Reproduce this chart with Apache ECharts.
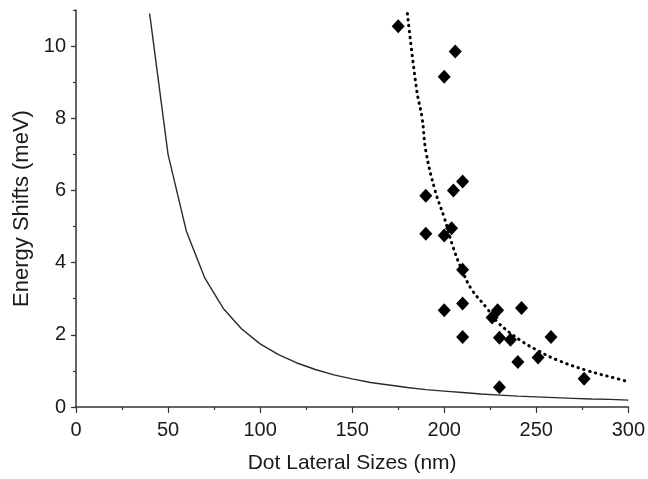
<!DOCTYPE html>
<html>
<head>
<meta charset="utf-8">
<script src="https://cdn.jsdelivr.net/npm/echarts@6/dist/echarts.min.js"></script>
<style>html,body{margin:0;padding:0;background:#fff;}#chart{width:648px;height:479px;}</style>
</head>
<body>
<div id="chart"></div>
<script>
// Measured scatter points (dot lateral size nm, energy shift meV)
const scatterX = [175, 206, 200, 210, 205, 190, 204, 190, 200, 210, 200, 210, 229, 226, 242, 210, 230, 236, 258, 240, 251, 276, 230];
const scatterY = [10.55, 9.85, 9.15, 6.25, 6.0, 5.85, 4.95, 4.8, 4.75, 3.8, 2.68, 2.87, 2.68, 2.48, 2.74, 1.94, 1.92, 1.86, 1.94, 1.25, 1.37, 0.78, 0.55];

// Solid theoretical curve
const solidX = [40, 50, 60, 70, 80, 90, 100, 110, 120, 130, 140, 150, 160, 170, 180, 190, 200, 210, 220, 230, 240, 250, 260, 270, 280, 290, 300];
const solidY = [10.9, 7.0, 4.86, 3.57, 2.73, 2.16, 1.75, 1.45, 1.22, 1.04, 0.89, 0.78, 0.68, 0.61, 0.54, 0.48, 0.44, 0.40, 0.36, 0.33, 0.30, 0.28, 0.26, 0.24, 0.22, 0.21, 0.19];

// Dotted fit curve
const dotX = [180, 185, 188, 190, 195, 200, 205, 210, 215, 223, 229, 241, 251, 261, 277, 295, 300];
const dotY = [10.9, 8.8, 8.0, 7.1, 6.0, 5.25, 4.4, 3.75, 3.25, 2.75, 2.35, 1.86, 1.56, 1.31, 1.02, 0.77, 0.70];

const xTicks = [0, 50, 100, 150, 200, 250, 300];
const yTicks = [0, 2, 4, 6, 8, 10];

const pair = (xs, ys) => xs.map((x, i) => [x, ys[i]]);

const font = '"Liberation Sans", Arial, Helvetica, sans-serif';
const axisColor = '#333';

const chart = echarts.init(document.getElementById('chart'), null, {renderer: 'canvas'});
chart.setOption({
  animation: false,
  backgroundColor: '#ffffff',
  grid: {left: 76, right: 19, top: 10, bottom: 72, containLabel: false},
  xAxis: {
    type: 'value',
    min: xTicks[0], max: xTicks[xTicks.length - 1], interval: 50,
    name: 'Dot Lateral Sizes (nm)',
    nameLocation: 'middle', nameGap: 46,
    nameTextStyle: {fontFamily: font, fontSize: 21, color: '#1a1a1a'},
    axisLine: {show: true, lineStyle: {color: axisColor, width: 1.5}},
    axisTick: {show: true, inside: false, length: 6, lineStyle: {color: axisColor, width: 1.2}},
    minorTick: {show: true, splitNumber: 2, length: 3, lineStyle: {color: axisColor, width: 1.2}},
    axisLabel: {fontFamily: font, fontSize: 20, color: '#1a1a1a', margin: 13},
    splitLine: {show: false}
  },
  yAxis: [{
    type: 'value',
    min: 0, max: 11, interval: 2,
    name: 'Energy Shifts (meV)',
    nameLocation: 'middle', nameGap: 27,
    nameTextStyle: {fontFamily: font, fontSize: 22, color: '#1a1a1a'},
    axisLine: {show: true, lineStyle: {color: axisColor, width: 1.5}},
    axisTick: {show: true, inside: false, length: 5, lineStyle: {color: axisColor, width: 1.2}},
    axisLabel: {fontFamily: font, fontSize: 20, color: '#1a1a1a', margin: 10, showMaxLabel: false},
    splitLine: {show: false}
  }, {
    type: 'value',
    position: 'left',
    min: 0, max: 11, interval: 1,
    axisLine: {show: false},
    axisTick: {show: true, inside: false, length: 3, lineStyle: {color: axisColor, width: 1.2}},
    axisLabel: {show: false},
    splitLine: {show: false}
  }],
  series: [{
    type: 'line',
    data: pair(solidX, solidY),
    showSymbol: false,
    smooth: false,
    lineStyle: {color: '#2a2a2a', width: 1.4},
    z: 2
  }, {
    type: 'line',
    data: pair(dotX, dotY),
    showSymbol: false,
    smooth: 0.4,
    lineStyle: {color: '#000', width: 3, type: [0.5, 5.5], cap: 'round'},
    z: 3
  }, {
    type: 'scatter',
    data: pair(scatterX, scatterY),
    symbol: 'diamond',
    symbolSize: [13, 14],
    itemStyle: {color: '#000', opacity: 1},
    z: 4
  }]
});
</script>
</body>
</html>
